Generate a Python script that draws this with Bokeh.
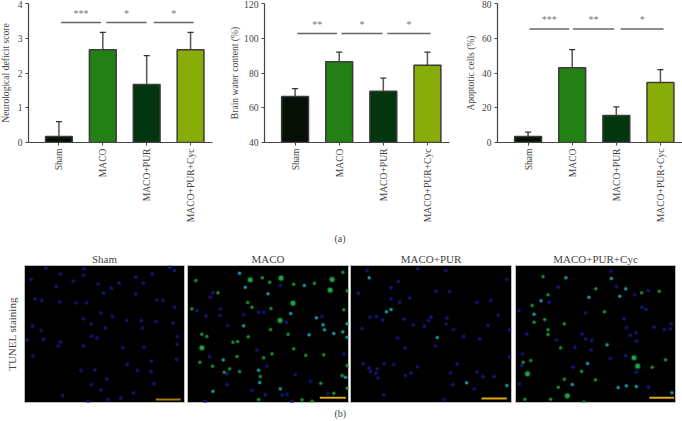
from math import pi
from bokeh.plotting import figure
from bokeh.layouts import row, column
from bokeh.models import ColumnDataSource, Whisker, TeeHead, Title, FixedTicker, Range1d
from bokeh.core.properties import value
from bokeh.embed import file_html
from bokeh.resources import INLINE

FONT = "Liberation Serif"
TXT = "#444444"

groups = ["Sham", "MACO", "MACO+PUR", "MACO+PUR+Cyc"]
bar_colors = ["#050f05", "#238014", "#03360f", "#88ad08"]

neuro_vals = [0.17, 2.67, 1.67, 2.67]
neuro_err = [0.6, 3.17, 2.5, 3.17]
water_vals = [66.5, 86.5, 69.5, 84.5]
water_err = [71, 92, 77, 92]
apop_vals = [3.5, 43, 15.5, 34.5]
apop_err = [6, 53.5, 20.5, 42]

neuro_sig = ["***", "*", "*"]
water_sig = ["**", "*", "*"]
apop_sig = ["***", "**", "*"]

# significance brackets: start, end (category units), level (value units)
neuro_br = ([0.05, 1.08, 2.16], [0.96, 2.0, 3.07], 3.45)
water_br = ([0.05, 1.05, 2.09], [0.95, 1.98, 3.07], 102.8)
apop_br = ([0.03, 1.02, 2.1], [0.93, 1.95, 3.07], 65.3)


def plain_label(axis, text, size, standoff):
    axis.axis_label = text
    axis.axis_label_standoff = standoff
    axis.axis_label_text_font = FONT
    axis.axis_label_text_font_style = "normal"
    axis.axis_label_text_font_size = size
    axis.axis_label_text_color = TXT


def tag(text, offset, standoff):
    return Title(text=text, align="left", offset=offset, standoff=standoff, text_font=FONT,
                 text_font_style="normal", text_font_size="10px", text_color=TXT)


def chart(vals, errs, sig, br, ylab, y0, y1, yticks, width, left, right, lab_standoff, **kw):
    p = figure(width=width, height=248, output_backend="svg", toolbar_location=None,
               min_border_left=left, min_border_right=right, min_border_top=3, min_border_bottom=106,
               x_range=Range1d(-(30.5 / 44), 3.5), y_range=Range1d(y0, y1), outline_line_color=None,
               background_fill_color=None, border_fill_color=None, **kw)
    p.grid.visible = False
    src = ColumnDataSource(dict(x=list(range(4)), top=vals, err=errs, color=bar_colors))
    p.vbar(x="x", bottom=y0, top="top", width=0.61, fill_color="color",
           line_color="#3c3c3c", line_width=1.5, source=src)
    p.add_layout(Whisker(base="x", lower="top", upper="err", source=src, line_color="#555555",
                         line_width=1.5, lower_head=None,
                         upper_head=TeeHead(size=6, line_color="#333333", line_width=1.2)))
    xs, xe, lev = br
    p.segment(x0=xs, x1=xe, y0=[lev] * 3, y1=[lev] * 3, line_color="#666666", line_width=1.5)
    star_y = lev + (y1 - y0) * 0.066
    p.text(x=[(a + b) / 2 for a, b in zip(xs, xe)], y=[star_y] * 3, text=sig, text_font=value(FONT),
           text_font_size="10px", text_color="#777777", text_align="center", text_baseline="middle")
    xa = p.xaxis[0]
    xa.ticker = FixedTicker(ticks=[0, 1, 2, 3])
    xa.major_label_overrides = {i: g for i, g in enumerate(groups)}
    xa.major_label_orientation = pi / 2
    ya = p.yaxis[0]
    ya.ticker = FixedTicker(ticks=yticks)
    plain_label(ya, ylab, "9.6px", lab_standoff)
    for a in (xa, ya):
        a.minor_tick_line_color = None
        a.major_tick_in = 0
        a.major_tick_out = 3
        a.major_tick_line_color = "#444444"
        a.major_tick_line_width = 1
        a.axis_line_color = "#444444"
        a.axis_line_width = 1.2
        a.major_label_text_font = FONT
        a.major_label_text_font_size = "9.6px"
        a.major_label_text_color = TXT
        a.major_label_standoff = 3
    return p


f1 = chart(neuro_vals, neuro_err, neuro_sig, neuro_br, "Neurological deficit score", 0, 4, [0, 1, 2, 3, 4],
           231, 33, 14, 4, margin=(0, 0, 0, -5))
f2 = chart(water_vals, water_err, water_sig, water_br, "Brain water content (%)", 40, 120, [40, 60, 80, 100, 120],
           234, 38, 11, 1)
f3 = chart(apop_vals, apop_err, apop_sig, apop_br, "Apoptotic cells (%)", 0, 80, [0, 20, 40, 60, 80],
           222, 37, 0, 3)
f2.add_layout(tag("(a)", 70, 10), "below")

# TUNEL dots (x, y in picture units of each panel)
sham_blue = [(135,83),(250,85),(508,80),(522,90),(178,100),(248,104),(217,122),(405,110),(455,100),(428,128),(90,117),(166,138),(292,130),(308,158),(405,160),(355,128),(332,143),(102,175),(122,180),(176,184),(225,187),(257,187),(468,178),(487,180),(522,200),(300,217),(378,240),(422,240),(466,243),(517,247),(94,257),(272,250),(314,263),(425,263),(248,235),(335,228),(78,298),(127,296),(272,287),(288,293),(530,288),(178,305),(172,316),(248,316),(366,321),(430,320),(95,347),(530,312),(452,362),(380,372),(528,357),(240,390),(282,388),(410,390),(452,393),(272,432),(460,430),(318,415),(300,448),(398,457),(185,465),(322,477),(360,473),(262,483),(120,270)]
maco_blue = [(840,135),(638,157),(630,170),(661,205),(660,225),(590,210),(618,227),(790,215),(775,215),(730,222),(965,228),(858,245),(682,255),(770,328),(628,348),(800,377),(885,402),(930,423),(680,432),(755,450),(795,463),(845,463),(860,462),(875,483),(615,483),(982,460),(1030,340),(680,400)]
maco_green = [(587,120),(786,112),(808,125),(1027,95),(880,131),(942,128),(1040,151),(653,157),(755,200),(742,186),(1030,208),(812,204),(575,205),(811,267),(620,288),(605,281),(744,289),(712,303),(698,305),(863,281),(599,365),(637,377),(688,385),(710,348),(815,340),(916,344),(970,343),(780,408),(961,428),(1000,458),(1040,375),(1040,443),(1025,405),(672,395),(718,393),(790,352),(880,325),(905,478),(935,482),(775,477)]
maco_big = [(750,118),(842,113),(995,117),(989,149),(878,188),(839,240),(605,322)]
maco_cyan = [(718,98),(735,140),(912,135),(803,160),(871,219),(948,232),(968,253),(972,268),(1000,279),(1027,274),(1040,290),(926,283),(669,358),(775,389),(778,426),(840,445),(638,452),(1035,410),(1040,250),(730,256)]
pur_blue = [(232,85),(316,90),(174,123),(287,152),(328,153),(54,158),(208,172),(178,186),(152,175),(410,186),(451,180),(474,224),(272,230),(264,240),(126,238),(190,236),(108,228),(88,230),(219,253),(252,257),(320,233),(340,267),(443,255),(65,264),(172,292),(370,288),(418,295),(285,316),(194,322),(508,268),(508,350),(68,369),(131,369),(86,383),(110,385),(90,393),(106,398),(160,372),(231,379),(351,371),(410,394),(330,397),(212,397),(195,405),(428,408),(462,408),(112,413),(338,432),(402,445),(130,463),(310,477),(500,117),(80,90),(152,142),(318,250)]
pur_cyan = [(152,207),(291,291),(379,427),(500,435),(86,112),(138,214)]
cyc_blue = [(812,92),(653,140),(625,185),(534,210),(735,217),(851,235),(905,200),(917,207),(883,163),(924,150),(828,138),(993,250),(990,265),(972,267),(942,260),(859,262),(887,277),(888,302),(870,285),(558,281),(647,298),(735,295),(753,300),(703,320),(752,329),(856,346),(810,354),(698,380),(543,375),(888,395),(536,430),(925,440),(725,280),(545,340)]
cyc_green = [(574,195),(612,237),(671,250),(792,214),(580,245),(622,268),(622,282),(660,322),(936,380),(976,358),(570,360),(547,365),(653,440),(671,416),(552,476),(730,485),(630,476),(957,152),(904,157),(766,145),(607,108),(622,163),(765,418),(723,392)]
cyc_big = [(881,352),(892,377),(560,400),(680,466)]
cyc_cyan = [(813,114),(601,181),(580,221),(856,145),(838,167),(745,170),(741,369),(833,441),(858,436),(888,438),(995,457),(676,112),(800,313),(695,432)]

BLUE = "#12166e"
GREEN = "#178a32"
CYAN = "#1492a0"


def panel(title, xr, width, left, right, blue, green, big, cyan, bar, bar_color, y_axis=None):
    p = figure(width=width, height=173, output_backend="svg", toolbar_location=None,
               x_axis_location=None, y_axis_location=y_axis,
               min_border_left=left, min_border_right=right, min_border_top=17, min_border_bottom=19,
               x_range=Range1d(*xr), y_range=Range1d(486, 75), background_fill_color="#000000",
               border_fill_color=None, outline_line_color="#bdbdbd", outline_line_width=1,
               title=Title(text=title, align="center", standoff=1, text_font=FONT, text_font_style="normal",
                           text_font_size="11px", text_color=TXT))
    p.grid.visible = False
    for pts, col, sz in ((blue, BLUE, 3.2), (green, GREEN, 3), (big, "#1fa044", 4.6), (cyan, CYAN, 3)):
        if pts:
            xs = [a for a, _ in pts]
            ys = [b for _, b in pts]
            p.scatter(xs, ys, size=sz * 1.5, fill_color=col, fill_alpha=0.3, line_color=None)
            p.scatter(xs, ys, size=sz, fill_color=col, line_color=None)
    p.segment(x0=[bar[0]], x1=[bar[1]], y0=[bar[2]], y1=[bar[2]], line_color=bar_color, line_width=2)
    return p


p1 = panel(groups[0], (70, 552), 186, 24, 2, sham_blue, [], [], [], (465, 540, 477), "#a77f10", y_axis="left")
p2 = panel(groups[1], (562, 1044), 163, 1, 1, maco_blue, maco_green, maco_big, maco_cyan, (958, 1036, 472), "#e0a810")
p3 = panel(groups[2], (30, 514), 164, 1, 2, pur_blue, [], [], pur_cyan, (424, 500, 474), "#e0a810")
p4 = panel(groups[3], (524, 1006), 169, 2, 7, cyc_blue, cyc_green, cyc_big, cyc_cyan, (927, 1002, 472), "#e0a810")
ya = p1.yaxis[0]
ya.ticker = FixedTicker(ticks=[])
ya.minor_tick_line_color = None
ya.major_tick_line_color = None
ya.axis_line_color = None
plain_label(ya, "TUNEL staining", "11px", 7)
p2.add_layout(tag("(b)", 147, 6), "below")

page = column(row(f1, f2, f3), row(p1, p2, p3, p4))
open("out.html", "w").write(file_html(page, INLINE))
